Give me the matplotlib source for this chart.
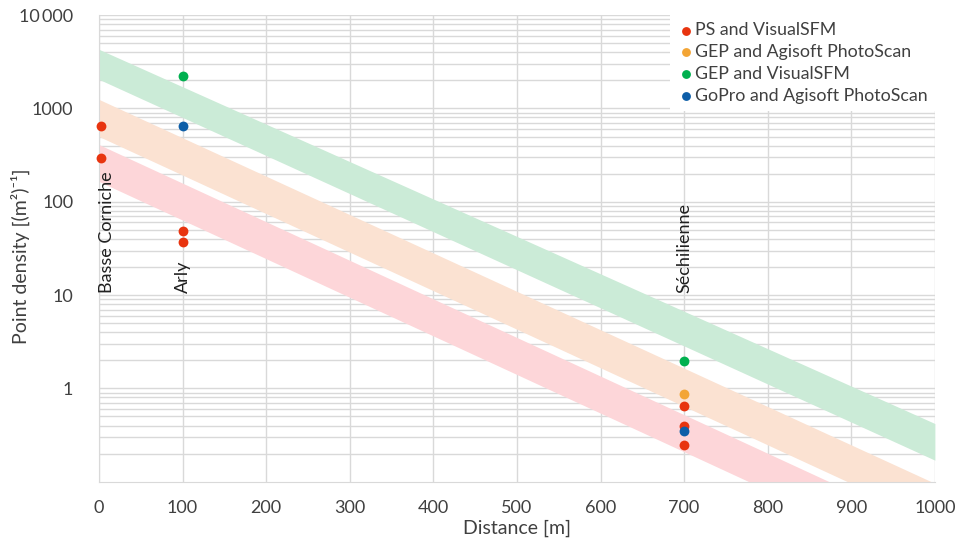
import matplotlib
matplotlib.use('Agg')
import matplotlib.pyplot as plt
from matplotlib.ticker import FixedLocator, LogLocator, NullFormatter

plt.rcParams['font.family'] = ['Lato', 'DejaVu Sans']

# scatter data: distance [m] and point density [(m2)-1]
ps_vsfm_x = [2, 2, 100, 100, 700, 700, 700]
ps_vsfm_y = [650, 297, 49, 37, 0.65, 0.40, 0.25]
gep_agi_x = [700]
gep_agi_y = [0.86]
gep_vsfm_x = [100, 700]
gep_vsfm_y = [2240, 1.97]
gopro_agi_x = [100, 700]
gopro_agi_y = [650, 0.35]

series_names = ['PS and VisualSFM', 'GEP and Agisoft PhotoScan',
                'GEP and VisualSFM', 'GoPro and Agisoft PhotoScan']
series_colors = ['#e8340f', '#f3a535', '#00b04f', '#0d5ea8']

# bands: edge values at distance 0 and 1000
band_x = [0, 1000]
green_top = [4300, 0.42]
green_bot = [2050, 0.17]
orange_top = [1250, 0.096]
orange_bot = [500, 0.037]
red_top = [410, 0.030]
red_bot = [165, 0.012]

sites = ['Basse Corniche', 'Arly', 'Séchilienne']
site_x = [10, 100, 700]

fig = plt.figure(figsize=(9.57, 5.40), dpi=100)
ax = fig.add_axes([0.1034, 0.108, 0.8735, 0.864])

ax.fill_between(band_x, green_bot, green_top, color='#cbebd7', lw=0, zorder=1)
ax.fill_between(band_x, orange_bot, orange_top, color='#fbe2d2', lw=0, zorder=1)
ax.fill_between(band_x, red_bot, red_top, color='#fdd6d9', lw=0, zorder=1)

xs = [ps_vsfm_x, gep_agi_x, gep_vsfm_x, gopro_agi_x]
ys = [ps_vsfm_y, gep_agi_y, gep_vsfm_y, gopro_agi_y]
order = [2, 1, 0, 3]
handles = {}
for i in order:
    handles[i] = ax.scatter(xs[i], ys[i], s=50, color=series_colors[i], lw=0,
                            zorder=4, label=series_names[i], clip_on=False)

ax.set_yscale('log')
ax.set_xlim(0, 1000)
ax.set_ylim(0.1, 10000)
ax.set_xticks(range(0, 1001, 100))
ax.yaxis.set_major_locator(FixedLocator([1, 10, 100, 1000, 10000]))
ax.set_yticklabels(['1', '10', '100', '1000', '10\u2009000'])
ax.yaxis.set_minor_locator(LogLocator(base=10, subs=range(2, 10), numticks=20))
ax.yaxis.set_minor_formatter(NullFormatter())

ax.grid(True, which='major', color='#d9d9d9', lw=1, zorder=0)
ax.grid(True, which='minor', axis='y', color='#d9d9d9', lw=1, zorder=0)
ax.set_axisbelow(True)
for s in ax.spines.values():
    s.set_visible(False)
ax.spines['bottom'].set_visible(True)
ax.spines['bottom'].set_color('#d9d9d9')
ax.spines['left'].set_visible(True)
ax.spines['left'].set_color('#d9d9d9')
ax.tick_params(which='both', length=0, colors='#404040', labelsize=13)
ax.tick_params(axis='y', pad=18.5)
ax.tick_params(axis='x', pad=13.5)

for name, x in zip(sites, site_x):
    ax.text(x, 10.6, name, rotation=90, ha='center', va='bottom',
            fontsize=13, color='#202020', zorder=5)

ax.set_xlabel('Distance [m]', fontsize=14, color='#404040')
ax.xaxis.set_label_coords(0.5, -0.082)
ax.set_ylabel('Point density [(m\u00b2)\u207b\u00b9]', fontsize=14, color='#404040')
ax.yaxis.set_label_coords(-0.082, 0.484)

leg = ax.legend([handles[i] for i in range(4)], series_names, loc='upper right',
                bbox_to_anchor=(1.0, 1.0), frameon=True, fontsize=12.8,
                handletextpad=0.0, borderpad=0.4, labelspacing=0.33,
                handlelength=1.0, markerscale=0.9, borderaxespad=0.0)
leg.get_frame().set_edgecolor('none')
leg.get_frame().set_facecolor('white')
leg.get_frame().set_alpha(1)
leg.get_frame().set_boxstyle('square', pad=0)
for t in leg.get_texts():
    t.set_color('#404040')

fig.savefig('out.png', dpi=100)
